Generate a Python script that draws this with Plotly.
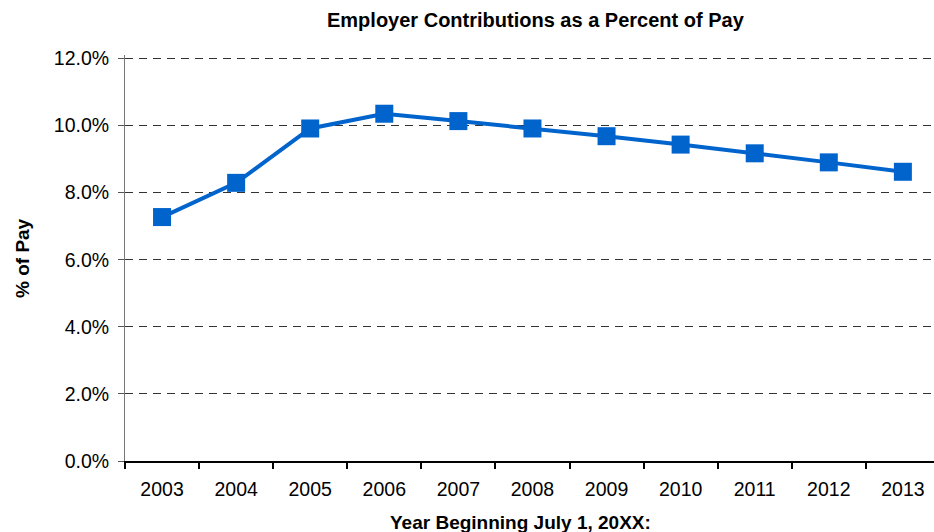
import plotly.graph_objects as go

# Plan years and employer contribution rates (% of pay)
years = ["2003", "2004", "2005", "2006", "2007", "2008",
         "2009", "2010", "2011", "2012", "2013"]
contribution_pct = [7.27, 8.29, 9.91, 10.35, 10.13, 9.91,
                    9.68, 9.43, 9.17, 8.90, 8.62]

y_ticks = [0, 2, 4, 6, 8, 10, 12]

BLUE = "#0064CC"
FONT = "Liberation Sans, Arial, sans-serif"

fig = go.Figure(
    go.Scatter(
        x=years,
        y=contribution_pct,
        mode="lines+markers",
        line=dict(color=BLUE, width=4),
        marker=dict(symbol="square", size=18, color=BLUE),
        showlegend=False,
        hoverinfo="x+y",
        cliponaxis=False,
    )
)

fig.update_layout(
    width=934,
    height=532,
    margin=dict(l=125, r=0, t=55, b=71),
    paper_bgcolor="white",
    plot_bgcolor="white",
    font=dict(family=FONT, size=20, color="black"),
    annotations=[
        dict(text="<b>Employer Contributions as a Percent of Pay</b>",
             xref="paper", yref="paper", x=0.5, y=1, yshift=35,
             xanchor="center", yanchor="middle", showarrow=False,
             font=dict(family=FONT, size=20, color="black"),
             xshift=6),
        dict(text="<b>Year Beginning July 1, 20XX:</b>",
             xref="paper", yref="paper", x=0.5, y=0, yshift=-61,
             xanchor="center", yanchor="middle", showarrow=False,
             font=dict(family=FONT, size=19, color="black"),
             xshift=-9),
        dict(text="<b>% of Pay</b>", textangle=-90,
             xref="paper", yref="paper", x=0, xshift=-103, y=0.5,
             xanchor="center", yanchor="middle", showarrow=False,
             font=dict(family=FONT, size=19, color="black")),
    ],
)

fig.update_xaxes(
    type="category",
    range=[-0.5, 10.42],
    showline=True, linecolor="black", linewidth=2,
    ticks="outside", tickson="boundaries", ticklen=6,
    tickwidth=2, tickcolor="black",
    showgrid=False, zeroline=False,
    tickfont=dict(size=19.5),
    ticklabelstandoff=10,
)

fig.update_yaxes(
    range=[0, 12.1],
    tickvals=y_ticks,
    ticktext=[f"{v:.1f}%" for v in y_ticks],
    showline=True, linecolor="#777777", linewidth=1,
    ticks="outside", ticklen=6, tickcolor="#555555",
    showgrid=True, gridcolor="#333333", gridwidth=1,
    griddash="8px,6px",
    zeroline=False,
    tickfont=dict(size=19.5),
    ticklabelstandoff=5,
)

fig.write_html("out.html")
